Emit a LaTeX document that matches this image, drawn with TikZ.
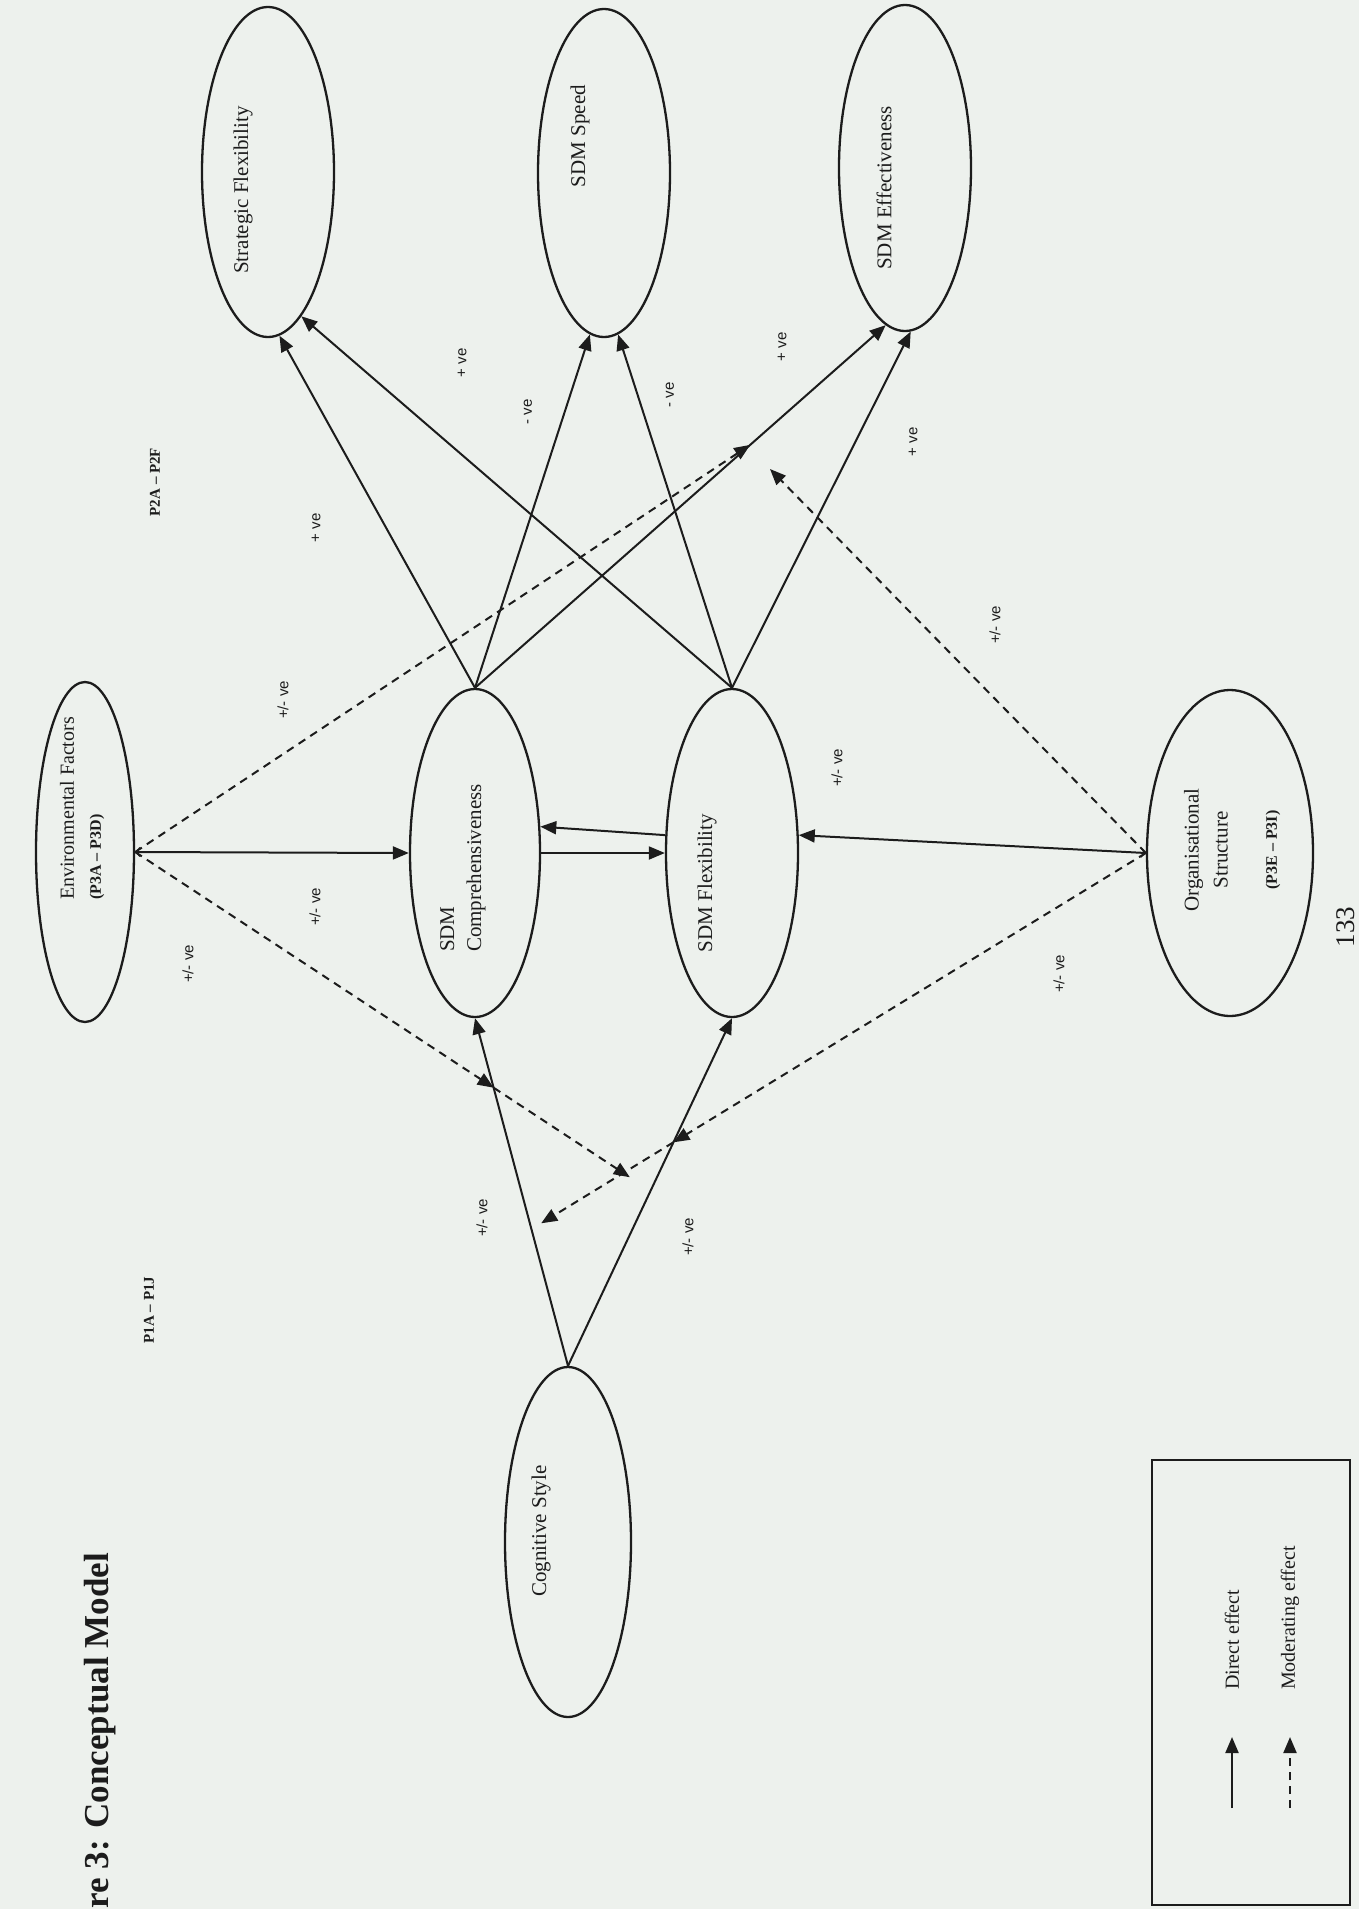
\documentclass[tikz,border=0pt]{standalone}
\usepackage{fontspec}
\setmainfont{Liberation Serif}
\newfontfamily\lblfont{Liberation Sans}
\usetikzlibrary{shapes.geometric,arrows.meta,calc}
\definecolor{ink}{RGB}{28,28,28}
\definecolor{paper}{RGB}{237,241,237}
\begin{document}
\begin{tikzpicture}[x=1pt,y=-1pt,
  oval/.style={ellipse,draw=ink,line width=2.3pt,inner sep=0pt},
  vtext/.style={rotate=90,text=ink,inner sep=0pt,font=\fontsize{21}{27}\selectfont},
  lbl/.style={rotate=90,text=ink,inner sep=0pt,font=\lblfont\fontsize{15}{18}\selectfont},
  plbl/.style={rotate=90,text=ink,inner sep=0pt,font=\bfseries\fontsize{15}{18}\selectfont},
  direct/.style={draw=ink,line width=2pt,-{Triangle[length=16pt,width=13pt]}},
  barbed/.style={{Straight Barb[length=4pt,width=9pt,line width=1.2pt]}-{Triangle[length=16pt,width=13pt]}},
  moder/.style={draw=ink,line width=2pt,dash pattern=on 8pt off 6pt,-{Triangle[length=16pt,width=13pt]}},
]
\useasboundingbox (0,0) rectangle (1359,1909);
\fill[paper] (0,0) rectangle (1359,1909);

% ellipses
\node[oval,minimum width=132pt,minimum height=330pt] (sf) at (268,172) {};
\node[oval,minimum width=132pt,minimum height=328pt] (speed) at (604,173) {};
\node[oval,minimum width=132pt,minimum height=326pt] (eff) at (905,168) {};
\node[oval,minimum width=98pt,minimum height=340pt] (env) at (85,852) {};
\node[oval,minimum width=130pt,minimum height=328pt] (comp) at (475,853) {};
\node[oval,minimum width=132pt,minimum height=328pt] (flex) at (732,853) {};
\node[oval,minimum width=166pt,minimum height=326pt] (org) at (1230,853) {};
\node[oval,minimum width=126pt,minimum height=350pt] (cog) at (568,1542) {};

% ellipse texts
\node[vtext] (sft) at (243,190) {Strategic Flexibility};
\node[vtext] (spt) at (580,136) {SDM Speed};
\node[vtext] (eft) at (884,188) {SDM Effectiveness};
\node[vtext,align=left] (cpt) at (463,868) {SDM\\Comprehensiveness};
\node[vtext] (flt) at (707,883) {SDM Flexibility};
\node[vtext] (cgt) at (541,1531) {Cognitive Style};
\node[vtext,align=center,font=\fontsize{21}{29}\selectfont] (ogt) at (1206,850) {Organisational\\Structure};
\node[plbl,font=\bfseries\fontsize{16}{19}\selectfont] (ogp) at (1273,850) {(P3E -- P3I)};
\node[vtext,anchor=west,font=\fontsize{20}{24}\selectfont] (ent) at (67,900) {Environmental Factors};
\node[plbl,anchor=west,font=\bfseries\fontsize{16}{19}\selectfont] (enp) at (97,900) {(P3A -- P3D)};

% direct effects
\draw[direct] (comp.north) -- (sf.-86);
\draw[direct] (comp.north) -- (speed.-95);
\draw[direct] (comp.north) -- (eff.-97);
\draw[direct] (flex.north) -- (sf.-77);
\draw[direct] (flex.north) -- (speed.-85);
\draw[direct] (flex.north) -- (eff.-88);
\draw[direct,barbed] (env.east) -- (comp.west);
\draw[direct] (comp.east) -- (flex.west);
\draw[direct] (flex.165) -- (comp.22);
\draw[direct,barbed] (org.west) -- (flex.15);
\draw[direct] (cog.north) -- (comp.south);
\draw[direct] (cog.north) -- (flex.south);

% moderating effects
\path (comp.north) -- (eff.-97) coordinate[pos=0.67] (mA);
\coordinate (mB) at (770,469);
\path (cog.north) -- (comp.south) coordinate[pos=0.8] (mC);
\coordinate (mD) at ($(env.east)!1.38!(mC)$);
\path (cog.north) -- (flex.south) coordinate[pos=0.643] (mE);
\coordinate (mF) at ($(org.west)!1.28!(mE)$);
\draw[moder] (env.east) -- (mA);
\draw[moder] (org.west) -- (mB);
\draw[moder] (env.east) -- (mC);
\draw[moder] (mC) -- (mD);
\draw[moder] (org.west) -- (mE);
\draw[moder] (mE) -- (mF);

% effect labels
\node[lbl] (l1) at (188,964) {+/- ve};
\node[lbl] (l2) at (315,907) {+/- ve};
\node[lbl] (l3) at (283,700) {+/- ve};
\node[lbl] (l4) at (316,528) {+ ve};
\node[lbl] (l5) at (462,363) {+ ve};
\node[lbl] (l6) at (528,412) {- ve};
\node[lbl] (l7) at (670,395) {- ve};
\node[lbl] (l8) at (782,347) {+ ve};
\node[lbl] (l9) at (913,442) {+ ve};
\node[lbl] (l10) at (995,625) {+/- ve};
\node[lbl] (l11) at (837,768) {+/- ve};
\node[lbl] (l12) at (1059,974) {+/- ve};
\node[lbl] (l13) at (482,1218) {+/- ve};
\node[lbl] (l14) at (688,1237) {+/- ve};

% proposition labels
\node[plbl] (p1) at (149,1310) {P1A -- P1J};
\node[plbl] (p2) at (155,482) {P2A -- P2F};

% title and page number
\node[rotate=90,anchor=base east,inner sep=0pt,text=ink,font=\bfseries\fontsize{35}{40}\selectfont] (ttl) at (108,1553) {re 3: Conceptual Model};
\node[rotate=90,inner sep=0pt,text=ink,font=\fontsize{27}{30}\selectfont] (pg) at (1346,927) {133};

% legend
\node[draw=ink,line width=2pt,minimum width=198pt,minimum height=445pt,inner sep=0pt] (legend) at (1251,1682.5) {};
\coordinate (d1) at (1232,1808);
\coordinate (d2) at (1232,1737);
\coordinate (e1) at (1290,1808);
\coordinate (e2) at (1290,1737);
\draw[direct] (d1) -- (d2);
\draw[moder] (e1) -- (e2);
\node[vtext,anchor=west,font=\fontsize{20}{24}\selectfont] (dlt) at (1232,1690) {Direct effect};
\node[vtext,anchor=west,font=\fontsize{20}{24}\selectfont] (mlt) at (1290,1690) {Moderating effect};
\end{tikzpicture}
\end{document}
